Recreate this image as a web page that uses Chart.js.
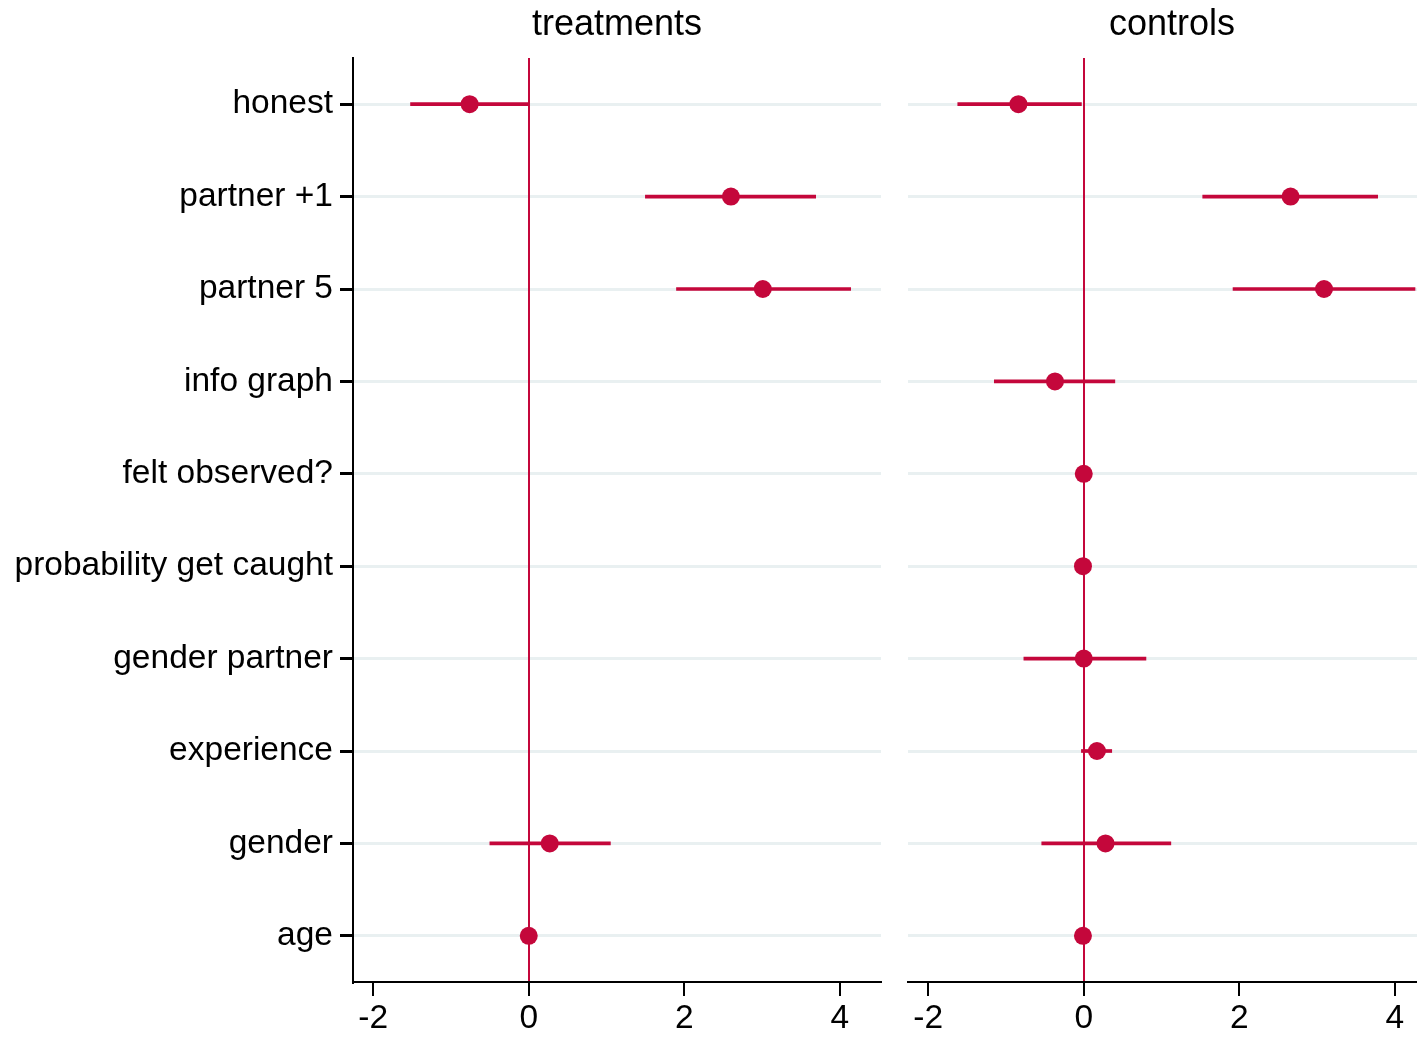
<!DOCTYPE html>
<html>
<head>
<meta charset="utf-8">
<script src="https://cdn.jsdelivr.net/npm/chart.js@4"></script>
<style>
  html, body { margin: 0; padding: 0; background: #fff; overflow: hidden; }
  #wrap { position: relative; width: 1417px; height: 1038px; overflow: hidden; }
  #left { position: absolute; left: 0; top: 0; width: 890px; height: 1038px; }
  #right { position: absolute; left: 890px; top: 0; width: 555px; height: 1038px; }
  .ptitle {
    position: absolute; top: 2px; width: 528px; text-align: center;
    font-family: "Liberation Sans", Arial, sans-serif; font-size: 36px; color: #000;
  }
</style>
</head>
<body>
<div id="wrap">
  <div id="left"><canvas id="treatChart"></canvas></div>
  <div id="right"><canvas id="ctrlChart"></canvas></div>
  <div class="ptitle" style="left: 353px;">treatments</div>
  <div class="ptitle" style="left: 908px;">controls</div>
</div>
<script>
// DATA
const variables = ["honest", "partner +1", "partner 5", "info graph", "felt observed?",
  "probability get caught", "gender partner", "experience", "gender", "age"];
const xTicks = [-2, 0, 2, 4];

// treatments: point estimates and confidence intervals
const treatCoef = [-0.76, 2.60, 3.01, null, null, null, null, null, 0.27, 0.0];
const treatLow  = [-1.52, 1.50, 1.90, null, null, null, null, null, -0.50, -0.01];
const treatHigh = [0.0, 3.69, 4.14, null, null, null, null, null, 1.05, 0.01];

// controls
const ctrlCoef = [-0.84, 2.66, 3.09, -0.37, 0.0, -0.01, 0.0, 0.17, 0.28, -0.01];
const ctrlLow  = [-1.62, 1.53, 1.92, -1.15, -0.02, -0.03, -0.77, -0.03, -0.54, -0.02];
const ctrlHigh = [-0.03, 3.78, 4.26, 0.40, 0.02, 0.01, 0.80, 0.36, 1.12, 0.01];

const RED = "#c4073b";
const GRID = "#e9f0f1";
const FONT = "'Liberation Sans', Arial, sans-serif";

function makeIntervals(lo, hi) {
  return lo.map((l, i) => (l === null ? null : [l, hi[i]]));
}

// BUILD ONE PANEL
function coefPanel(canvasId, coef, lo, hi, showLabels, leftWidth) {
  const ctx = document.getElementById(canvasId).getContext("2d");
  return new Chart(ctx, {
    type: "bar",
    data: {
      labels: variables,
      datasets: [
        {
          type: "line",
          indexAxis: "y",
          data: coef,
          showLine: false,
          pointRadius: 9,
          pointHoverRadius: 9,
          pointBackgroundColor: RED,
          pointBorderColor: RED,
          pointBorderWidth: 0,
          order: 0,
        },
        {
          data: makeIntervals(lo, hi),
          backgroundColor: RED,
          borderWidth: 0,
          barThickness: 3,
          order: 1,
        },
      ],
    },
    options: {
      indexAxis: "y",
      responsive: true,
      maintainAspectRatio: false,
      animation: false,
      layout: { padding: { left: 0, right: 9, top: 58, bottom: 0 } },
      plugins: {
        legend: { display: false },
        tooltip: { enabled: false },
        title: { display: false },
      },
      scales: {
        x: {
          type: "linear",
          position: "bottom",
          min: -2.26,
          max: 4.53,
          afterBuildTicks: (scale) => {
            scale.ticks = xTicks.map((v) => ({ value: v }));
          },
          afterFit: (scale) => {
            scale.height = 56;
          },
          border: { display: true, color: "#000", width: 2 },
          grid: {
            z: -1,
            color: (c) => (c.tick && c.tick.value === 0 ? RED : "rgba(0,0,0,0)"),
            lineWidth: 2,
            tickColor: "#000",
            tickLength: 14,
          },
          ticks: {
            color: "#000",
            padding: 3,
            font: { family: FONT, size: 33.5 },
          },
        },
        y: {
          type: "category",
          position: "left",
          offset: true,
          afterFit: (scale) => {
            scale.width = leftWidth;
          },
          border: { display: showLabels, color: "#000", width: 2 },
          grid: {
            z: -2,
            offset: false,
            color: GRID,
            lineWidth: 3,
            drawTicks: showLabels,
            tickColor: "#000",
            tickLength: 13,
          },
          ticks: {
            display: showLabels,
            color: "#000",
            padding: 7,
            font: { family: FONT, size: 33.5 },
          },
        },
      },
    },
  });
}

coefPanel("treatChart", treatCoef, treatLow, treatHigh, true, 353);
coefPanel("ctrlChart", ctrlCoef, ctrlLow, ctrlHigh, false, 18);
</script>
</body>
</html>
